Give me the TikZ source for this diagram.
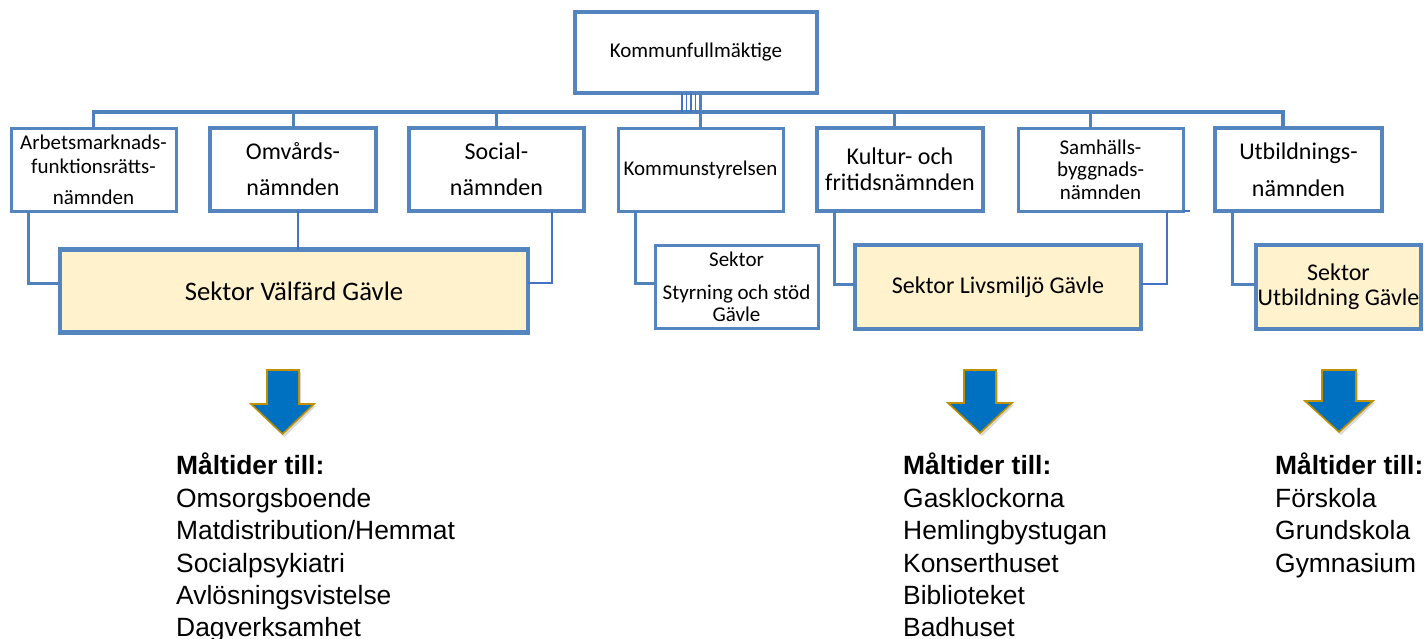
\documentclass[tikz,border=0pt]{standalone}
\usepackage{fontspec}
\setmainfont{Carlito}
\newfontfamily\arialf{Liberation Sans}
\usetikzlibrary{calc}
\definecolor{bordc}{HTML}{5585BE}
\definecolor{linec}{HTML}{4F81BD}
\definecolor{thinc}{HTML}{4472C4}
\definecolor{sectfill}{HTML}{FFF2CC}
\definecolor{arrfill}{HTML}{0070C0}
\definecolor{arrgold}{HTML}{BF9000}
\newcommand\fsSmall{\fontsize{21}{24}\selectfont}
\newcommand\listfont{\arialf\fontsize{26.4}{32.4}\selectfont}
\begin{document}
\begin{tikzpicture}[x=1pt,y=-1pt,
 box/.style={draw=bordc, fill=white, minimum width=#1, minimum height=83pt, inner sep=0pt, outer sep=0pt, align=center},
 sect/.style={box=#1, fill=sectfill, minimum height=84pt},
 thickb/.style={line width=4.5pt},
 medb/.style={line width=3.5pt},
 thinb/.style={line width=3pt},
 bus/.style={draw=linec, line width=3.5pt},
 drop/.style={draw=linec, line width=3pt},
 fine/.style={draw=thinc, line width=1.5pt},
 arrowbody/.style={fill=arrfill, draw=arrgold, line width=1.6pt, line join=miter},
 arrowshadow/.style={fill=black, opacity=0.15},
 listtext/.style={anchor=north west, align=left, inner sep=0pt, font=\listfont}
]
\useasboundingbox (0,0) rectangle (1424,638);

% top
\node[box=242pt, minimum height=81pt, line width=4pt, font=\fsSmall] (kf) at (696,52.5) {Kommunfullmäktige};

% committees
\node[box=165pt, thinb, font=\fsSmall] (arb) at (93.5,169.5) {Arbetsmarknads-\\funktionsrätts-\\[7pt]nämnden};
\node[box=166pt, thickb, font={\fontsize{24}{36}\selectfont}] (omv) at (293,169.5) {Omvårds-\\nämnden};
\node[box=175pt, thickb, font={\fontsize{24}{36}\selectfont}] (soc) at (496.5,169.5) {Social-\\nämnden};
\node[box=165pt, thinb, font=\fsSmall] (kst) at (700.5,169.5) {Kommunstyrelsen};
\node[box=166pt, thickb, font={\fontsize{24}{26}\selectfont}] (kult) at (900,169.5) {Kultur- och\\fritidsnämnden};
\node[box=165pt, thinb, font={\fontsize{21}{22.5}\selectfont}] (sam) at (1100.5,169.5) {Samhälls-\\byggnads-\\nämnden};
\node[box=167pt, thickb, font={\fontsize{24}{37}\selectfont}] (utbn) at (1298.5,169.5) {Utbildnings-\\nämnden};

% sectors
\node[sect=468pt, minimum height=83pt, thickb, font={\fontsize{26.7}{30}\selectfont}] (vf) at (294,291) {Sektor Välfärd Gävle};
\node[box=163pt, thinb, font={\fontsize{21}{22}\selectfont}] (sty) at (736.5,286.5) {Sektor\\[11pt]Styrning och stöd\\Gävle};
\node[sect=286pt, thickb, font={\fontsize{24}{26}\selectfont}] (liv) at (998,287) {Sektor Livsmiljö Gävle};
\node[sect=165pt, thickb, font={\fontsize{24}{25}\selectfont}] (sutb) at (1338.5,287) {Sektor\\Utbildning Gävle};

% bus
\coordinate (bus) at (700,112);
\draw[bus] (arb.north) -- (arb.north |- bus) -- ([xshift=-15.5pt]utbn.north |- bus) -- ([xshift=-15.5pt]utbn.north);
\draw[drop] (omv.north) -- (omv.north |- bus);
\draw[drop] (soc.north) -- (soc.north |- bus);
\draw[drop] ([xshift=-6pt]kult.north) -- ([xshift=-6pt]kult.north |- bus);
\draw[drop] ([xshift=-10.5pt]sam.north) -- ([xshift=-10.5pt]sam.north |- bus);
\draw[drop] ([xshift=-0.5pt]kst.north) -- ([xshift=-0.5pt]kst.north |- kf.south);
\foreach \dx in {-14,-9.5,-5,-0.5}
  \draw[fine, line width=1.2pt] ([xshift=\dx pt]kf.south) -- ([xshift=\dx pt]kf.south |- bus);

% links to sectors
\draw[drop] ([xshift=17pt]arb.south west) |- ([yshift=8pt]vf.west);
\draw[fine] ([xshift=5pt]omv.south) -- ([xshift=5pt]omv.south |- vf.north);
\draw[fine] ([xshift=-32pt]soc.south east) |- ([yshift=8pt]vf.east);
\draw[drop] ([xshift=17pt]kst.south west) |- ([yshift=3pt]sty.west);
\draw[drop] ([xshift=17pt]kult.south west) |- ([yshift=3pt]liv.west);
\draw[fine] ([xshift=-16pt]sam.south east) |- ([yshift=3pt]liv.east);
\draw[fine] (sam.south east) -- ++(7,0);
\draw[drop] ([xshift=17pt]utbn.south west) |- ([yshift=3pt]sutb.west);

% block arrows
\foreach \sl/\sr/\hl/\hr/\tx/\hy/\ty in {267/299/251/314/282.5/404/434, 964/996/948/1012/980/403/433, 1322/1356/1305/1373/1339/401/432}{
  \fill[arrowshadow] (\sl+2,372) -- (\sr+2,372) -- (\sr+2,\hy+2) -- (\hr+2,\hy+2) -- (\tx+2,\ty+3) -- (\hl+2,\hy+2) -- (\sl+2,\hy+2) -- cycle;
  \filldraw[arrowbody] (\sl,370) -- (\sr,370) -- (\sr,\hy) -- (\hr,\hy) -- (\tx,\ty) -- (\hl,\hy) -- (\sl,\hy) -- cycle;
}

% lists
\node[listtext] (l1) at (176,453) {\textbf{Måltider till:}\\Omsorgsboende\\Matdistribution/Hemmat\\Socialpsykiatri\\Avlösningsvistelse\\Dagverksamhet};
\node[listtext] (l2) at (903,453) {\textbf{Måltider till:}\\Gasklockorna\\Hemlingbystugan\\Konserthuset\\Biblioteket\\Badhuset};
\node[listtext] (l3) at (1275,453) {\textbf{Måltider till:}\\Förskola\\Grundskola\\Gymnasium};
\end{tikzpicture}
\end{document}
